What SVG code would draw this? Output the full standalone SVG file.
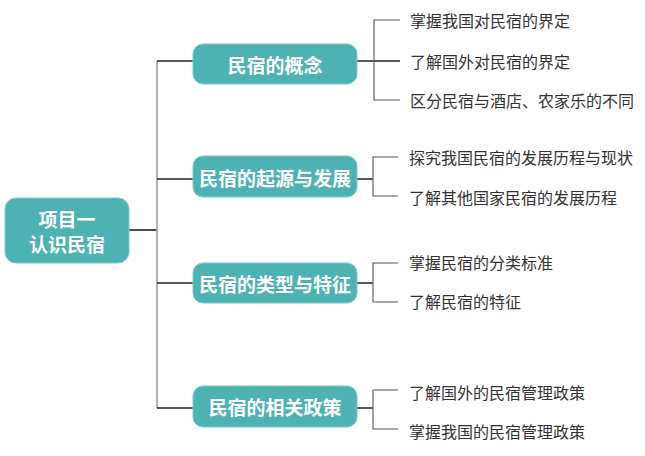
<svg xmlns="http://www.w3.org/2000/svg" width="645" height="456" viewBox="0 0 645 456">
<style>
.box{fill:#4cb2b4;stroke:#7ccacb;stroke-width:1}
.bt{font-family:"Noto Sans CJK SC","Noto Sans",sans-serif;font-weight:bold;font-size:19px;fill:#fff;text-anchor:middle;dominant-baseline:central}
.lt{font-family:"Noto Sans CJK SC","Noto Sans",sans-serif;font-size:16px;fill:#333;dominant-baseline:central}
.dk{stroke:#222;stroke-width:1.6;fill:none}
.gr{stroke:#a0a0a0;stroke-width:1.6;fill:none}
.lf{stroke:#555;stroke-width:1.1;fill:none}
</style>
<rect width="645" height="456" fill="#fff"/>
<g id="connectors">
<path class="dk" d="M129 230H157"/>
<path class="gr" d="M157 61V408"/>
<path class="dk" d="M157 61H193M157 179H193M157 283H193M157 408H193"/>
<path class="dk" d="M357 61H400M357 179H373M357 283H373M357 408H373"/>
<path class="lf" d="M400 20H374V100H400"/>
<path class="lf" d="M398 157H373V196H398"/>
<path class="lf" d="M398 263H373V302H398"/>
<path class="lf" d="M398 390H373V429H398"/>
</g>
<g id="root">
<rect class="box" x="5" y="198" width="124" height="65" rx="11"/>
<text class="bt" x="67" y="218">项目一</text>
<text class="bt" x="67" y="243">认识民宿</text>
</g>
<g id="b1">
<rect class="box" x="193" y="44" width="164" height="40" rx="10"/>
<text class="bt" x="275" y="64">民宿的概念</text>
</g>
<g id="b2">
<rect class="box" x="193" y="156" width="164" height="41" rx="10"/>
<text class="bt" x="275" y="177">民宿的起源与发展</text>
</g>
<g id="b3">
<rect class="box" x="193" y="263" width="164" height="40" rx="10"/>
<text class="bt" x="275" y="283">民宿的类型与特征</text>
</g>
<g id="b4">
<rect class="box" x="193" y="386" width="164" height="41" rx="10"/>
<text class="bt" x="275" y="406">民宿的相关政策</text>
</g>
<g id="leaves">
<text class="lt" x="410" y="20">掌握我国对民宿的界定</text>
<text class="lt" x="410" y="61">了解国外对民宿的界定</text>
<text class="lt" x="410" y="100">区分民宿与酒店、农家乐的不同</text>
<text class="lt" x="409" y="157">探究我国民宿的发展历程与现状</text>
<text class="lt" x="409" y="197">了解其他国家民宿的发展历程</text>
<text class="lt" x="409" y="262">掌握民宿的分类标准</text>
<text class="lt" x="409" y="301">了解民宿的特征</text>
<text class="lt" x="409" y="392">了解国外的民宿管理政策</text>
<text class="lt" x="409" y="431">掌握我国的民宿管理政策</text>
</g>
</svg>
